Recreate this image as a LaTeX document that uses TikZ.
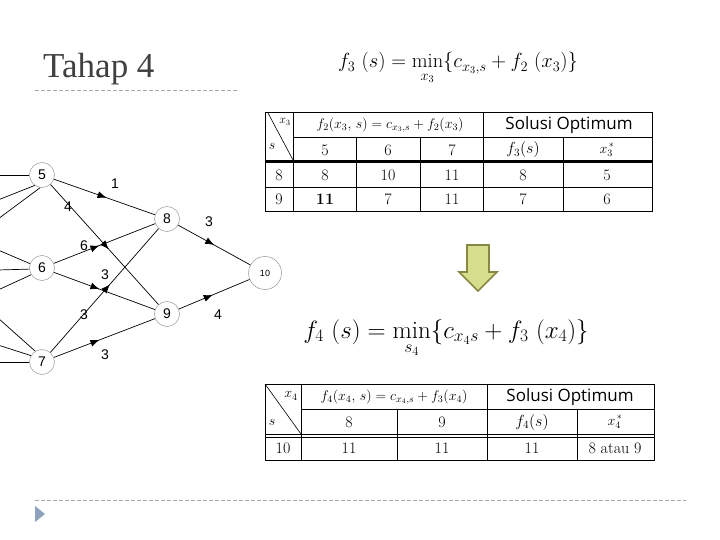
\RequirePackage{fix-cm}
\documentclass[tikz,border=0pt]{standalone}
\usepackage{fontspec}
\usepackage{amsmath}
\usetikzlibrary{arrows.meta,decorations.markings}
\newfontfamily\arialf{Liberation Sans}
\newfontfamily\titlef{Liberation Serif}
\newfontfamily\solf{Open Sans}
\definecolor{titlegray}{RGB}{64,64,64}
\definecolor{dashgray}{RGB}{170,170,170}
\definecolor{bulletblue}{RGB}{140,162,190}
\definecolor{arrowfill}{RGB}{214,221,140}
\definecolor{arrowline}{RGB}{135,136,66}
\definecolor{circgray}{RGB}{150,150,150}
\begin{document}
\begin{tikzpicture}[x=1pt,y=-1pt,
  st/.style={circle,draw=circgray,line width=0.5pt,minimum size=25pt,inner sep=0pt,font=\arialf\fontsize{14}{14}\selectfont},
  ed/.style={line width=0.7pt,postaction={decorate},decoration={markings,mark=at position #1 with {\arrow{Latex[length=9pt,width=7pt]}}}},
  ed/.default=0.5,
  inl/.style={line width=0.7pt},
  lbl/.style={font=\arialf\fontsize{14}{14}\selectfont,inner sep=0pt},
  tl/.style={line width=0.9pt},
  tn/.style={font=\fontsize{16}{16}\selectfont,inner sep=0pt},
  th/.style={font=\fontsize{14}{14}\selectfont,inner sep=0pt},
  sol/.style={font=\solf\fontsize{17}{17}\selectfont,inner sep=0pt},
  dsh/.style={dashgray,dash pattern=on 4pt off 2pt,line width=0.8pt}
]
\useasboundingbox (0,0) rectangle (720,540);
\clip (0,0) rectangle (720,540);

% title
\node[anchor=base west,font=\titlef\fontsize{35}{35}\selectfont,text=titlegray,inner sep=0pt] (title) at (43,78) {Tahap 4};
\draw[dsh] (35,90) -- (237,90);

% formulas
\node[anchor=base,font=\fontsize{20.5}{20.5}\selectfont,inner sep=0pt] (eq1) at (458,68) {$f_3\ (s) = \min\limits_{x_3}\{c_{x_3,s} + f_2\ (x_3)\}$};
\node[anchor=base,font=\fontsize{25}{25}\selectfont,inner sep=0pt] (eq2) at (446,338) {$f_4\ (s) = \min\limits_{s_4}\{c_{x_4 s} + f_3\ (x_4)\}$};

% graph nodes
\node[st] (n5) at (42,175) {5};
\node[st] (n6) at (42,268) {6};
\node[st] (n7) at (42,362) {7};
\node[st] (n8) at (167,219) {8};
\node[st] (n9) at (167,314) {9};
\node[st,minimum size=33pt,font=\arialf\fontsize{9}{9}\selectfont] (n10) at (265,273) {10};

% incoming edges from the left
\coordinate (a1) at (-2,175);
\coordinate (a2) at (-2,200);
\coordinate (a3) at (-2,219);
\coordinate (b1) at (-2,250);
\coordinate (b2) at (-2,270);
\coordinate (b3) at (-2,290);
\coordinate (c1) at (-2,318);
\coordinate (c2) at (-2,345);
\coordinate (c3) at (-2,362);
\draw[inl] (a1) -- (n5.180);
\draw[inl] (a2) -- (n5.235);
\draw[inl] (a3) -- (n5.262);
\draw[inl] (b1) -- (n6.160);
\draw[inl] (b2) -- (n6.185);
\draw[inl] (b3) -- (n6.212);
\draw[inl] (c1) -- (n7.122);
\draw[inl] (c2) -- (n7.150);
\draw[inl] (c3) -- (n7.180);

% stage edges
\draw[ed=0.52] (n5) -- (n8);
\draw[ed=0.54] (n5) -- (n9);
\draw[ed=0.45] (n6) -- (n8);
\draw[ed=0.45] (n6) -- (n9);
\draw[ed=0.55] (n7) -- (n8);
\draw[ed=0.45] (n7) -- (n9);
\draw[ed=0.5] (n8) -- (n10);
\draw[ed=0.48] (n9) -- (n10);

% edge labels
\node[lbl] (l58) at (115,184) {1};
\node[lbl] (l59) at (68,207) {4};
\node[lbl] (l68) at (84,246) {6};
\node[lbl] (l69) at (105,275) {3};
\node[lbl] (l78) at (84,315) {3};
\node[lbl] (l79) at (105,355) {3};
\node[lbl] (l810) at (209,222) {3};
\node[lbl] (l910) at (218,315) {4};

% table 1
\draw[tl] (265,112) rectangle (652,211);
\draw[tl] (293,112) -- (293,211);
\draw[tl] (483,112) -- (483,211);
\draw[tl] (293,137) -- (652,137);
\draw[tl] (356,137) -- (356,211);
\draw[tl] (420,137) -- (420,211);
\draw[tl] (563,137) -- (563,211);
\draw[line width=3pt] (265,162) -- (652,162);
\draw[tl] (265,187) -- (652,187);
\draw[line width=0.6pt] (268,113) -- (293,160);
\node[th,font=\fontsize{12}{12}\selectfont] (t1x) at (285,122) {$x_3$};
\node[th] (t1s) at (272,146) {$s$};
\node[th] (t1h) at (390,125) {$f_2(x_3,\,s) = c_{x_3,s} + f_2(x_3)$};
\node[sol] (t1so) at (569,125) {Solusi Optimum};
\node[tn] (t1c5) at (325,150) {5};
\node[tn] (t1c6) at (388,150) {6};
\node[tn] (t1c7) at (452,150) {7};
\node[tn] (t1f) at (523,150) {$f_3(s)$};
\node[tn,font=\fontsize{14}{14}\selectfont] (t1xs) at (607,150) {$x_3^{\,*}$};
\node[tn] (t1r8) at (279,175) {8};
\node[tn] (t1r8a) at (325,175) {8};
\node[tn] (t1r8b) at (388,175) {10};
\node[tn] (t1r8c) at (452,175) {11};
\node[tn] (t1r8d) at (523,175) {8};
\node[tn] (t1r8e) at (607,175) {5};
\node[tn] (t1r9) at (279,199) {9};
\node[tn,font=\bfseries\fontsize{16}{16}\selectfont] (t1r9a) at (325,199) {11};
\node[tn] (t1r9b) at (388,199) {7};
\node[tn] (t1r9c) at (452,199) {11};
\node[tn] (t1r9d) at (523,199) {7};
\node[tn] (t1r9e) at (607,199) {6};

% arrow
\draw[arrowline,fill=arrowfill,line width=1.6pt,line join=miter]
  (467,245) -- (489,245) -- (489,272) -- (497,272) -- (478,291) -- (459,272) -- (467,272) -- cycle;

% table 2
\draw[tl] (265,384) rectangle (654,460);
\draw[tl] (301,384) -- (301,460);
\draw[tl] (487,384) -- (487,460);
\draw[tl] (397,409) -- (397,460);
\draw[tl] (577,409) -- (577,460);
\draw[tl] (301,409) -- (654,409);
\draw[tl] (265,434) -- (654,434);
\draw[tl] (265,437.5) -- (654,437.5);
\draw[line width=0.6pt] (265,384) -- (301,434);
\node[th] (t2x) at (291,396) {$x_4$};
\node[th] (t2s) at (272,422) {$s$};
\node[th] (t2h) at (394,397) {$f_4(x_4,\,s) = c_{x_4,s} + f_3(x_4)$};
\node[sol] (t2so) at (570,397) {Solusi Optimum};
\node[tn] (t2c8) at (349,422) {8};
\node[tn] (t2c9) at (442,422) {9};
\node[tn] (t2f) at (532,422) {$f_4(s)$};
\node[tn,font=\fontsize{14}{14}\selectfont] (t2xs) at (615,422) {$x_4^{\,*}$};
\node[tn] (t2r) at (283,448) {10};
\node[tn] (t2ra) at (349,448) {11};
\node[tn] (t2rb) at (442,448) {11};
\node[tn] (t2rc) at (532,448) {11};
\node[tn] (t2rd) at (615,448) {8 atau 9};

% footer
\draw[dsh] (35,500) -- (686,500);
\fill[bulletblue] (35,506) -- (45,514) -- (35,522) -- cycle;
\end{tikzpicture}
\end{document}
